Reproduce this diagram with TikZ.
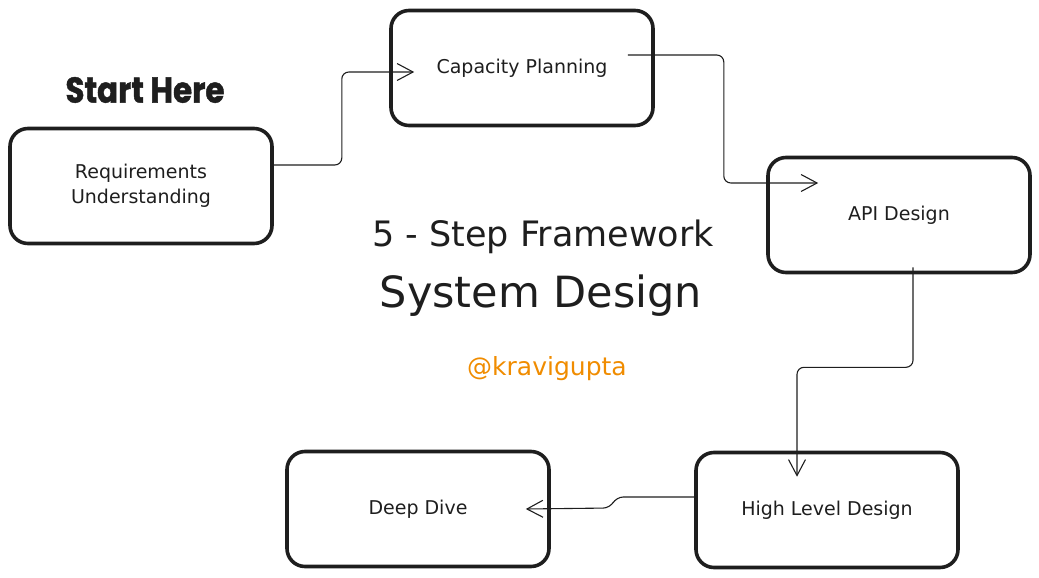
\documentclass[tikz,border=0pt]{standalone}
\usepackage{fontspec}
\setmainfont{DejaVu Sans}
\newfontfamily\startfont{Poppins}[FakeStretch=0.86,BoldFeatures={FakeBold=1.2}]
\usetikzlibrary{arrows.meta}
\definecolor{ink}{HTML}{1E1E1E}
\definecolor{handle}{HTML}{F08C00}
\tikzstyle{stage}=[draw=ink,line width=3.6pt,rounded corners=18pt,minimum width=262pt,minimum height=115pt,inner sep=0pt,align=center,text=ink,font=\fontsize{19}{25}\selectfont]
\tikzstyle{flow}=[draw=ink,line width=1.1pt,rounded corners=7pt,-{Straight Barb[length=16pt,width=17pt,line width=1.1pt]}]

\begin{document}
\begin{tikzpicture}[x=1pt,y=-1pt]
		\useasboundingbox (0, 0) rectangle (1039, 578);
		\node[stage] at (141, 186) (req) {Requirements\\Understanding};
		\node[stage] at (522, 68) (cap) {Capacity Planning};
		\node[stage] at (899, 215) (api) {API Design};
		\node[stage] at (827, 510) (hld) {High Level Design};
		\node[stage] at (418, 509) (deep) {Deep Dive};
		\node[font=\startfont\bfseries\fontsize{36}{38}\selectfont,text=ink] at (145, 90) (start) {Start Here};
		\node[font=\fontsize{35}{38}\selectfont,text=ink] at (543, 237) (steps) {5 - Step Framework};
		\node[font=\fontsize{43}{46}\selectfont,text=ink] at (541, 296) (title) {System Design};
		\node[font=\fontsize{25}{28}\selectfont,text=handle] at (547, 369) (handle) {@kravigupta};
		\draw[flow] ([yshift=21pt]req.east) -- ++(68, 0) |- ([xshift=25pt,yshift=-4pt]cap.west);
		\draw[flow] ([xshift=-27pt,yshift=13pt]cap.east) -- ++(96, 0) |- ([xshift=52pt,yshift=32pt]api.west);
		\draw[flow] ([xshift=14pt,yshift=7pt]api.south) -- ++(0, 100) -| ([xshift=-30pt,yshift=-26pt]hld.north);
		\draw[flow] ([yshift=13pt]hld.west) -- ++(-78, 0) -- ++(-6, 11) -- ([xshift=-25pt]deep.east);
\end{tikzpicture}
\end{document}
